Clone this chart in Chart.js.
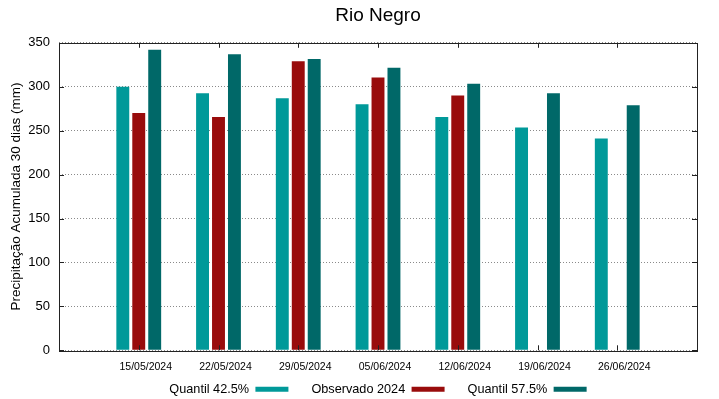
<!DOCTYPE html>
<html>
<head>
<meta charset="utf-8">
<script src="https://cdn.jsdelivr.net/npm/chart.js@4/dist/chart.umd.min.js"></script>
<style>
  html, body { margin: 0; padding: 0; background: #fff; }
  #wrap { width: 719px; height: 399px; }
</style>
</head>
<body>
<div id="wrap"><canvas id="barChart" width="719" height="399"></canvas></div>
<script>
// Datas das semanas
var categories = ["15/05/2024", "22/05/2024", "29/05/2024", "05/06/2024", "12/06/2024", "19/06/2024", "26/06/2024"];

// Precipitacao acumulada 30 dias (mm)
var quantil425 = [300, 292.5, 287, 280, 265.5, 253.5, 241];
var observado2024 = [270, 265.5, 329, 310.5, 290, null, null];
var quantil575 = [342, 337, 331.5, 321.5, 303.5, 292.5, 279];

var yTicks = [0, 50, 100, 150, 200, 250, 300, 350];

// eixo x vai de uma semana antes ate uma depois (posicoes vazias nas pontas)
var labels = [""].concat(categories, [""]);
function pad(arr) { return [null].concat(arr, [null]); }

var fontFamily = "'Liberation Sans', Arial, sans-serif";

//-------------------------------
//- moldura e ticks para dentro -
//-------------------------------
var framePlugin = {
  id: "frame",
  afterDatasetsDraw: function (chart) {
    var ctx = chart.ctx;
    var a = chart.chartArea;
    var x = chart.scales.x;
    var y = chart.scales.y;
    ctx.save();
    ctx.strokeStyle = "#222";
    ctx.lineWidth = 1;
    ctx.beginPath();
    yTicks.forEach(function (v) {
      var py = Math.round(y.getPixelForValue(v)) + 0.5;
      ctx.moveTo(a.left, py); ctx.lineTo(a.left + 5, py);
      ctx.moveTo(a.right, py); ctx.lineTo(a.right - 5, py);
    });
    categories.forEach(function (c, i) {
      var px = Math.round(x.getPixelForValue(i + 1)) + 0.5;
      ctx.moveTo(px, a.top); ctx.lineTo(px, a.top + 5);
      ctx.moveTo(px, a.bottom); ctx.lineTo(px, a.bottom - 5);
    });
    ctx.stroke();
    ctx.strokeRect(Math.round(a.left) + 0.5, Math.round(a.top) + 0.5,
      Math.round(a.right - a.left), Math.round(a.bottom - a.top));
    ctx.restore();
  }
};

var barChartData = {
  labels: labels,
  datasets: [
    {
      label: "Quantil 42.5%",
      data: pad(quantil425),
      backgroundColor: "#009999",
      borderWidth: 0
    },
    {
      label: "Observado 2024",
      data: pad(observado2024),
      backgroundColor: "#990c0c",
      borderWidth: 0
    },
    {
      label: "Quantil 57.5%",
      data: pad(quantil575),
      backgroundColor: "#006868",
      borderWidth: 0
    }
  ]
};

var barChartOptions = {
  responsive: false,
  animation: false,
  categoryPercentage: 0.6,
  barPercentage: 0.81,
  layout: {
    padding: { left: 4, right: 22, top: 0, bottom: -6.5 }
  },
  plugins: {
    title: {
      display: true,
      text: "Rio Negro",
      fullSize: false,
      color: "#000",
      font: { family: fontFamily, size: 19, weight: "normal" },
      padding: { top: 4, bottom: 16 }
    },
    legend: {
      position: "bottom",
      fullSize: false,
      rtl: true,
      reverse: true,
      textDirection: "ltr",
      labels: {
        color: "#000",
        font: { family: fontFamily, size: 12.7 },
        boxWidth: 33,
        boxHeight: 5,
        padding: 23
      }
    },
    tooltip: { enabled: false }
  },
  scales: {
    x: {
      offset: false,
      grid: { display: false },
      border: { display: false },
      ticks: {
        autoSkip: false,
        maxRotation: 0,
        mirror: true,   // evita o recorte dos rotulos na caixa do eixo
        padding: -23,   // com mirror o sinal inverte: rotulos abaixo do eixo
        labelOffset: 7,
        color: "#000",
        font: { family: fontFamily, size: 10.5 }
      },
      afterFit: function (scale) { scale.height = 9.5; }
    },
    y: {
      min: 0,
      max: 350,
      ticks: {
        stepSize: 50,
        padding: 9,
        color: "#000",
        font: { family: fontFamily, size: 13 }
      },
      grid: {
        color: "#8a8a8a",
        lineWidth: 1,
        drawTicks: false
      },
      border: { display: false, dash: [1, 2] },
      title: {
        display: true,
        text: "Precipitação Acumulada 30 dias (mm)",
        color: "#000",
        font: { family: fontFamily, size: 13.5 }
      },
      afterFit: function (scale) { scale.width = 55; }
    }
  }
};

var barChart = new Chart(document.getElementById("barChart").getContext("2d"), {
  type: "bar",
  data: barChartData,
  options: barChartOptions,
  plugins: [framePlugin]
});
</script>
</body>
</html>
